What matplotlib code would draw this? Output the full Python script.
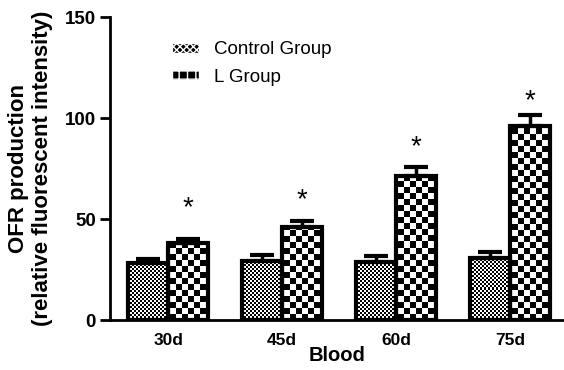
import numpy as np
import matplotlib
matplotlib.use('Agg')
import matplotlib.pyplot as plt
from matplotlib.patches import Patch

plt.rcParams['font.family'] = ['Liberation Sans', 'DejaVu Sans']

categories = ['30d', '45d', '60d', '75d']
control = [28, 29, 28.7, 30.7]
control_err = [2.0, 3.3, 3.0, 3.0]
l_group = [38, 46, 71.3, 96]
l_err = [2.0, 3.0, 4.3, 5.5]
star_y = [55.5, 59.5, 85.5, 108.5]

fig = plt.figure(figsize=(5.64, 3.70), dpi=100)
ax = fig.add_axes([0.195, 0.135, 0.805, 0.819])

x = np.arange(len(categories))
w = 0.35
bars_c = ax.bar(x - w / 2, control, w, facecolor='none', edgecolor='black', linewidth=3, zorder=3)
bars_l = ax.bar(x + w / 2, l_group, w, facecolor='none', edgecolor='black', linewidth=3, zorder=3)

ax.errorbar(x - w / 2, control, yerr=[np.zeros(4), control_err], fmt='none', ecolor='black',
            elinewidth=2.5, capsize=8.5, capthick=3, zorder=4)
ax.errorbar(x + w / 2, l_group, yerr=[np.zeros(4), l_err], fmt='none', ecolor='black',
            elinewidth=2.5, capsize=8.5, capthick=3, zorder=4)

for xi, sy in zip(x + w / 2, star_y):
    ax.text(xi, sy, '*', ha='center', va='center', fontsize=20)

# checkerboard textures clipped to each bar
ph, pw = 303, 454
ii, jj = np.indices((ph, pw))
fine = ((ii // 2 + jj // 2) % 2).astype(float)
coarse = ((ii // 6 + jj // 6) % 2).astype(float)
for bars, tex in [(bars_c, fine), (bars_l, coarse)]:
    for b in bars:
        im = ax.imshow(tex, cmap='gray', vmin=0, vmax=1, extent=[0, 1, 0, 1], transform=ax.transAxes,
                       interpolation='nearest', origin='lower', zorder=2)
        im.set_clip_path(b)
ax.set_aspect('auto')
ax.set_xlim(-0.51, 3.47)
ax.set_ylim(0, 150)

ax.set_xticks(x)
ax.set_xticklabels(categories, fontsize=12.5, fontweight='bold')
ax.tick_params(axis='x', length=0, pad=9)
ax.set_yticks([0, 50, 100, 150])
ax.tick_params(axis='y', length=7, width=2, labelsize=13.5, direction='out', pad=3)
for lab in ax.get_yticklabels():
    lab.set_fontweight('bold')

ax.spines['top'].set_visible(False)
ax.spines['right'].set_visible(False)
ax.spines['left'].set_linewidth(2)
ax.spines['bottom'].set_linewidth(2)

ax.set_xlabel('Blood', fontsize=14.5, fontweight='bold')
ax.xaxis.set_label_coords(0.50, -0.086)
ax.set_ylabel('OFR production\n(relative fluorescent intensity)', fontsize=16, fontweight='bold',
              linespacing=1.2)
ax.yaxis.set_label_coords(-0.126, 0.5)

handles = [Patch(facecolor='black', edgecolor='white', hatch='xxxxx', label='Control Group'),
           Patch(facecolor='black', edgecolor='white', hatch='++', label='L Group')]
ax.legend(handles=handles, loc='upper left', bbox_to_anchor=(0.10, 0.975), frameon=False,
          fontsize=13.5, handlelength=1.45, handleheight=0.48, labelspacing=0.55, handletextpad=0.75)

fig.savefig('out.png', dpi=100)
